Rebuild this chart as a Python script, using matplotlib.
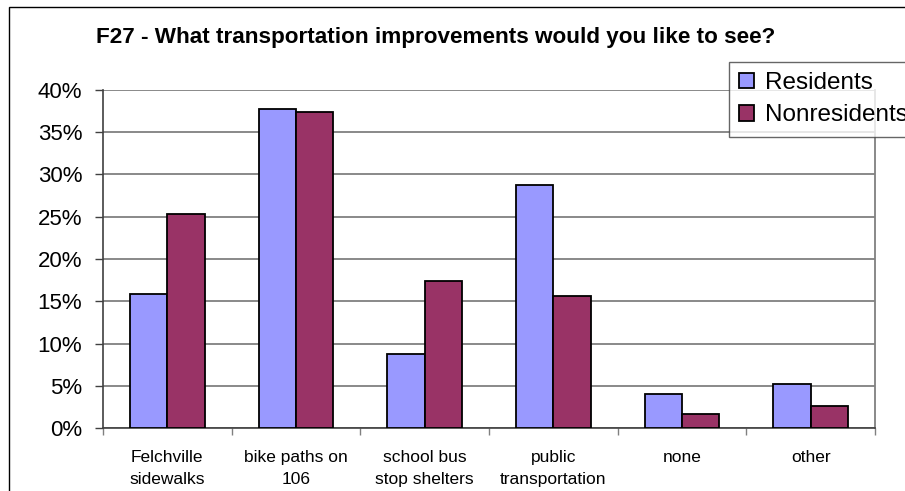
import matplotlib
matplotlib.use("Agg")
import matplotlib.pyplot as plt
from matplotlib.patches import Rectangle
from matplotlib.ticker import FixedLocator, FuncFormatter
import numpy as np

plt.rcParams['font.family'] = ['Liberation Sans', 'DejaVu Sans']

categories = ["Felchville\nsidewalks", "bike paths on\n106", "school bus\nstop shelters",
              "public\ntransportation", "none", "other"]
residents = [15.9, 37.8, 8.8, 28.7, 4.0, 5.2]
nonresidents = [25.3, 37.4, 17.4, 15.6, 1.7, 2.6]
series_names = ["Residents", "Nonresidents"]
y_ticks = [0, 5, 10, 15, 20, 25, 30, 35, 40]

W, H = 905, 491
fig = plt.figure(figsize=(W / 100, H / 100), dpi=100)
fig.patch.set_facecolor("white")

# outer chart frame (runs off the right and bottom edges)
fig.patches.append(Rectangle((9 / W, -0.1), 2.0, 1 - 7 / H + 0.1, transform=fig.transFigure,
                             fill=False, edgecolor="black", linewidth=1.0, zorder=0))

ax = fig.add_axes([103 / W, 1 - 428 / H, (875 - 103) / W, (428 - 90) / H])

x = np.arange(len(categories))
bw = 0.29
ax.bar(x - bw / 2, residents, bw, color="#9999FF", edgecolor="black", linewidth=1.3,
       label=series_names[0], zorder=3)
ax.bar(x + bw / 2, nonresidents, bw, color="#993366", edgecolor="black", linewidth=1.3,
       label=series_names[1], zorder=3)

ax.set_xlim(-0.5, len(categories) - 0.5)
ax.set_ylim(0, 40)

ax.set_yticks(y_ticks)
ax.yaxis.set_major_formatter(FuncFormatter(lambda v, p: f"{int(v)}%"))
ax.tick_params(axis="y", direction="out", length=6, width=1, color="#404040",
               labelsize=16, pad=9)
ax.grid(axis="y", color="#808080", linewidth=1.3, zorder=1)

ax.set_xticks(x)
ax.set_xticklabels(categories, fontsize=12.5, linespacing=1.6)
ax.tick_params(axis="x", which="major", length=0, pad=16)
ax.xaxis.set_minor_locator(FixedLocator(np.arange(-0.5, len(categories), 1.0)))
ax.tick_params(axis="x", which="minor", direction="out", length=5, width=1, color="#808080")

ax.spines["top"].set_visible(False)
ax.spines["right"].set_color("#808080")
ax.spines["right"].set_linewidth(1.3)
for side in ["left", "bottom"]:
    ax.spines[side].set_color("#404040")
    ax.spines[side].set_linewidth(1.2)

fig.text(96 / W, 1 - 38 / H, "F27 - What transportation improvements would you like to see?",
         fontsize=16.2, fontweight="bold", ha="left", va="center")

leg = fig.legend(loc="upper left", bbox_to_anchor=(729 / W, 1 - 62 / H), fontsize=17.5,
                 frameon=True, fancybox=False, handlelength=0.6, handleheight=0.6,
                 handletextpad=0.45, borderaxespad=0, borderpad=0.42, labelspacing=0.42)
leg.get_frame().set_edgecolor("#404040")
leg.get_frame().set_linewidth(1.0)
for p in leg.get_patches():
    p.set_linewidth(1.3)

fig.savefig("out.png", dpi=100)
